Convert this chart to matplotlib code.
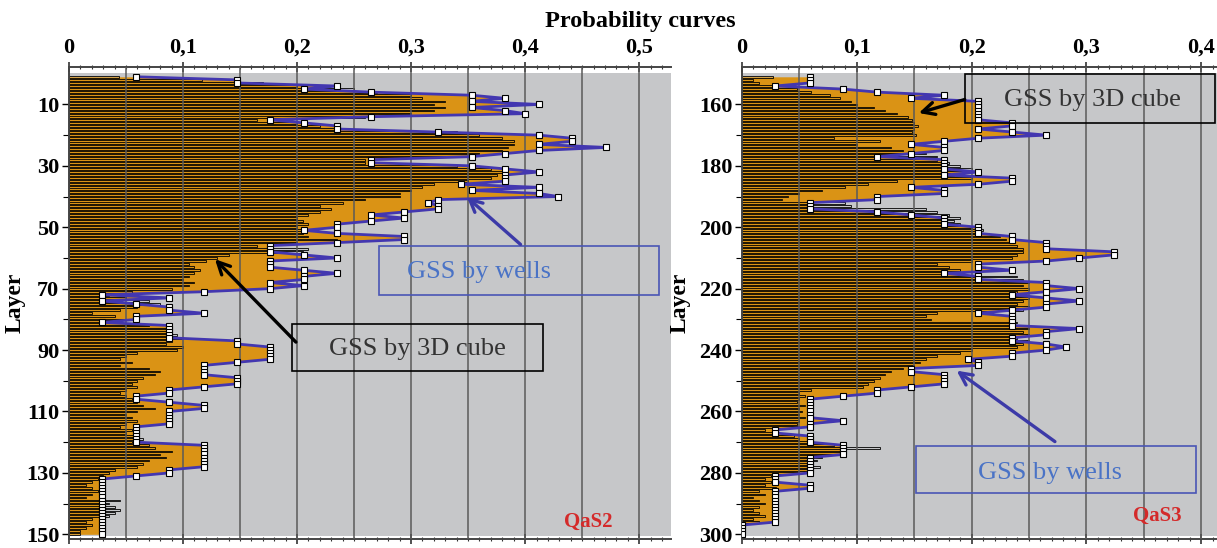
import numpy as np
import matplotlib
matplotlib.use("Agg")
import matplotlib.pyplot as plt
from matplotlib.patches import Rectangle
from matplotlib.ticker import FixedLocator, FuncFormatter, MultipleLocator

plt.rcParams['font.family'] = ['Liberation Serif', 'DejaVu Serif']

# layers of the two horizons
layers_qas2 = np.arange(1, 151)
layers_qas3 = np.arange(151, 301)

# probability of the facies per layer, from the wells
qas2_wells = [
    0.059, 0.147, 0.147, 0.235, 0.206, 0.265, 0.353, 0.382, 0.353, 0.412,
    0.353, 0.382, 0.400, 0.265, 0.176, 0.206, 0.235, 0.235, 0.324, 0.412,
    0.441, 0.441, 0.412, 0.471, 0.412, 0.382, 0.353, 0.265, 0.265, 0.353,
    0.382, 0.412, 0.382, 0.382, 0.382, 0.344, 0.412, 0.353, 0.412, 0.429,
    0.324, 0.315, 0.324, 0.324, 0.294, 0.265, 0.294, 0.265, 0.235, 0.235,
    0.206, 0.235, 0.294, 0.294, 0.235, 0.176, 0.176, 0.176, 0.206, 0.235,
    0.176, 0.176, 0.176, 0.206, 0.235, 0.206, 0.206, 0.176, 0.206, 0.176,
    0.118, 0.029, 0.088, 0.029, 0.059, 0.088, 0.088, 0.118, 0.059, 0.059,
    0.029, 0.088, 0.088, 0.088, 0.088, 0.088, 0.147, 0.147, 0.176, 0.176,
    0.176, 0.176, 0.176, 0.147, 0.118, 0.118, 0.118, 0.118, 0.147, 0.147,
    0.147, 0.118, 0.088, 0.088, 0.059, 0.059, 0.088, 0.118, 0.118, 0.088,
    0.088, 0.088, 0.088, 0.088, 0.059, 0.059, 0.059, 0.059, 0.059, 0.059,
    0.118, 0.118, 0.118, 0.118, 0.118, 0.118, 0.118, 0.118, 0.088, 0.088,
    0.059, 0.029, 0.029, 0.029, 0.029, 0.029, 0.029, 0.029, 0.029, 0.029,
    0.029, 0.029, 0.029, 0.029, 0.029, 0.029, 0.029, 0.029, 0.029, 0.029,
]

# probability per layer, from the 3D facies cube
qas2_cube = [
    0.044, 0.117, 0.170, 0.200, 0.250, 0.270, 0.300, 0.310, 0.330, 0.320,
    0.330, 0.320, 0.300, 0.260, 0.165, 0.200, 0.220, 0.235, 0.340, 0.360,
    0.380, 0.390, 0.390, 0.385, 0.380, 0.360, 0.350, 0.260, 0.260, 0.340,
    0.370, 0.380, 0.375, 0.370, 0.350, 0.320, 0.310, 0.300, 0.290, 0.290,
    0.260, 0.240, 0.220, 0.230, 0.220, 0.210, 0.200, 0.205, 0.210, 0.200,
    0.215, 0.205, 0.210, 0.235, 0.200, 0.165, 0.210, 0.205, 0.140, 0.130,
    0.120, 0.105, 0.110, 0.115, 0.110, 0.105, 0.100, 0.110, 0.105, 0.090,
    0.055, 0.035, 0.050, 0.070, 0.080, 0.060, 0.045, 0.020, 0.040, 0.055,
    0.030, 0.070, 0.090, 0.085, 0.095, 0.100, 0.090, 0.085, 0.100, 0.095,
    0.060, 0.050, 0.045, 0.055, 0.045, 0.070, 0.080, 0.075, 0.065, 0.060,
    0.055, 0.060, 0.050, 0.045, 0.050, 0.055, 0.060, 0.065, 0.075, 0.060,
    0.050, 0.055, 0.060, 0.050, 0.045, 0.055, 0.050, 0.060, 0.065, 0.055,
    0.070, 0.075, 0.090, 0.080, 0.085, 0.070, 0.065, 0.060, 0.040, 0.035,
    0.030, 0.025, 0.020, 0.015, 0.020, 0.025, 0.020, 0.015, 0.045, 0.035,
    0.040, 0.045, 0.040, 0.035, 0.020, 0.015, 0.020, 0.015, 0.010, 0.010,
]

qas3_wells = [
    0.059, 0.059, 0.059, 0.029, 0.088, 0.118, 0.176, 0.147, 0.206, 0.206,
    0.206, 0.206, 0.206, 0.206, 0.206, 0.235, 0.235, 0.206, 0.235, 0.265,
    0.206, 0.176, 0.147, 0.176, 0.176, 0.147, 0.118, 0.176, 0.176, 0.176,
    0.176, 0.206, 0.176, 0.235, 0.235, 0.206, 0.147, 0.176, 0.176, 0.118,
    0.118, 0.059, 0.059, 0.059, 0.118, 0.147, 0.176, 0.176, 0.176, 0.206,
    0.206, 0.206, 0.235, 0.235, 0.265, 0.265, 0.265, 0.324, 0.324, 0.294,
    0.265, 0.206, 0.206, 0.235, 0.176, 0.206, 0.206, 0.265, 0.265, 0.294,
    0.265, 0.235, 0.265, 0.294, 0.265, 0.265, 0.235, 0.206, 0.235, 0.235,
    0.235, 0.235, 0.294, 0.265, 0.265, 0.235, 0.235, 0.265, 0.282, 0.265,
    0.235, 0.235, 0.197, 0.206, 0.206, 0.147, 0.147, 0.176, 0.176, 0.176,
    0.176, 0.147, 0.118, 0.118, 0.088, 0.059, 0.059, 0.059, 0.059, 0.059,
    0.059, 0.059, 0.088, 0.059, 0.059, 0.029, 0.029, 0.059, 0.059, 0.059,
    0.088, 0.088, 0.088, 0.088, 0.059, 0.059, 0.059, 0.059, 0.059, 0.059,
    0.029, 0.029, 0.029, 0.059, 0.059, 0.029, 0.029, 0.029, 0.029, 0.029,
    0.029, 0.029, 0.029, 0.029, 0.029, 0.029, 0.000, 0.000, 0.000, 0.000,
]

qas3_cube = [
    0.027, 0.010, 0.015, 0.027, 0.048, 0.060, 0.077, 0.085, 0.095, 0.100,
    0.115, 0.125, 0.135, 0.145, 0.148, 0.150, 0.153, 0.150, 0.148, 0.152,
    0.080, 0.120, 0.100, 0.130, 0.140, 0.160, 0.170, 0.170, 0.180, 0.190,
    0.200, 0.195, 0.185, 0.200, 0.135, 0.110, 0.090, 0.070, 0.050, 0.040,
    0.035, 0.090, 0.095, 0.160, 0.170, 0.180, 0.190, 0.185, 0.190, 0.200,
    0.210, 0.215, 0.225, 0.230, 0.235, 0.240, 0.245, 0.245, 0.240, 0.235,
    0.200, 0.170, 0.180, 0.190, 0.175, 0.240, 0.245, 0.250, 0.245, 0.250,
    0.240, 0.245, 0.250, 0.245, 0.240, 0.250, 0.245, 0.170, 0.160, 0.165,
    0.240, 0.245, 0.250, 0.245, 0.250, 0.240, 0.250, 0.245, 0.240, 0.200,
    0.190, 0.170, 0.160, 0.155, 0.150, 0.140, 0.130, 0.125, 0.120, 0.115,
    0.110, 0.105, 0.060, 0.050, 0.055, 0.050, 0.048, 0.055, 0.050, 0.052,
    0.050, 0.055, 0.050, 0.048, 0.050, 0.020, 0.030, 0.045, 0.050, 0.060,
    0.080, 0.120, 0.085, 0.080, 0.070, 0.065, 0.060, 0.068, 0.060, 0.050,
    0.025, 0.020, 0.025, 0.020, 0.030, 0.015, 0.020, 0.010, 0.015, 0.020,
    0.015, 0.010, 0.015, 0.020, 0.010, 0.015, 0.000, 0.000, 0.000, 0.000,
]

GRAY = '#c6c7c9'
ORANGE = '#da9315'
BLUE_LINE = '#4337b0'
BLUE_TEXT = '#4a73c6'


def comma(v, pos):
    return '0' if abs(v) < 1e-9 else f'{v:.1f}'.replace('.', ',')


def draw_panel(ax, layers, wells, cube, xmax, ylabels):
    top, bottom = layers[0], layers[-1]
    ax.set_facecolor('white')
    ax.axhspan(top - 1.2, bottom + 0.6, color=GRAY, lw=0, zorder=0)
    ax.fill_betweenx(layers, 0, wells, color=ORANGE, lw=0, zorder=1)
    ax.barh(layers, cube, height=0.55, left=0, facecolor='none',
            edgecolor='black', linewidth=0.6, zorder=2)
    for gx in np.arange(0.05, xmax, 0.05):
        ax.axvline(gx, color='#5a5a5a', lw=1.1, zorder=3)
    ax.plot(wells, layers, color=BLUE_LINE, lw=2.0, zorder=4,
            marker='s', ms=4.6, mfc='white', mec='black', mew=0.8)

    ax.set_xlim(0, xmax)
    ax.set_ylim(bottom + 1.6, top - 3.2)
    ax.xaxis.tick_top()
    ax.xaxis.set_major_locator(MultipleLocator(0.1))
    ax.xaxis.set_minor_locator(MultipleLocator(0.01))
    ax.xaxis.set_major_formatter(FuncFormatter(comma))
    ax.tick_params(axis='x', which='both', top=True, bottom=True,
                   labeltop=True, labelbottom=False, direction='inout',
                   colors='#333333', labelcolor='black')
    ax.tick_params(axis='x', which='major', length=7, width=1.2,
                   labelsize=16, pad=3)
    ax.tick_params(axis='x', which='minor', length=3, width=0.8)
    ax.yaxis.set_major_locator(FixedLocator(ylabels))
    ax.yaxis.set_minor_locator(FixedLocator(np.array(ylabels[:-1]) + 10))
    ax.tick_params(axis='y', which='major', length=5, width=1.0,
                   labelsize=16, pad=2, direction='out')
    ax.tick_params(axis='y', which='minor', length=4, width=0.8,
                   direction='out')
    for lab in ax.get_xticklabels() + ax.get_yticklabels():
        lab.set_fontweight('bold')
    ax.spines['right'].set_visible(False)
    for s in ('top', 'bottom', 'left'):
        ax.spines[s].set_color('#444444')
        ax.spines[s].set_linewidth(1.4)
    ax.set_ylabel('Layer', fontsize=17, fontweight='bold')


fig = plt.figure(figsize=(12.17, 5.48), dpi=100)
ax1 = fig.add_axes([0.0567, 0.016, 0.4947, 0.8618])
ax2 = fig.add_axes([0.6097, 0.016, 0.3903, 0.8618])

draw_panel(ax1, layers_qas2, qas2_wells, qas2_cube, 0.528,
           list(range(10, 151, 20)))
draw_panel(ax2, layers_qas3, qas3_wells, qas3_cube, 0.4138,
           list(range(160, 301, 20)))
ax1.yaxis.set_label_coords(-0.072, 0.5)
ax2.yaxis.set_label_coords(-0.108, 0.5)

fig.text(0.526, 0.96, 'Probability curves', ha='center', va='center',
         fontsize=17.5, fontweight='bold')


def callout(ax, x0, x1, y0, y1, text, tx, ty, tail, head, edge, tcolor, acolor):
    ax.add_patch(Rectangle((x0, y0), x1 - x0, y1 - y0, fill=False,
                           edgecolor=edge, lw=1.2, zorder=6))
    ax.text(tx, ty, text, color=tcolor, fontsize=19, ha='center',
            va='center', zorder=7)
    ax.annotate('', xy=head, xytext=tail, zorder=7,
                arrowprops=dict(arrowstyle='->', color=acolor, lw=2.4,
                                mutation_scale=22, shrinkA=0, shrinkB=0))


callout(ax1, 0.272, 0.5175, 56.2, 72.0, 'GSS by wells', 0.36, 64.6,
        (0.396, 55.6), (0.349, 40.2), '#4a55b5', BLUE_TEXT, '#3c3aa8')
callout(ax1, 0.196, 0.416, 81.6, 96.7, 'GSS by 3D cube', 0.306, 89.6,
        (0.199, 87.4), (0.128, 60.4), 'black', '#333333', 'black')
callout(ax2, 0.194, 0.412, 150.0, 166.0, 'GSS by 3D cube', 0.305, 158.7,
        (0.194, 158.4), (0.154, 162.8), 'black', '#333333', 'black')
callout(ax2, 0.1516, 0.3955, 271.1, 286.5, 'GSS by wells', 0.268, 280.0,
        (0.2726, 269.8), (0.187, 246.7), '#4a55b5', BLUE_TEXT, '#3c3aa8')

ax1.text(0.455, 146.0, 'QaS2', color='#d42a2a', fontsize=15,
         fontweight='bold', ha='center', va='center', zorder=7)
ax2.text(0.3615, 294.0, 'QaS3', color='#d42a2a', fontsize=15,
         fontweight='bold', ha='center', va='center', zorder=7)

fig.savefig('out.png', dpi=100)
